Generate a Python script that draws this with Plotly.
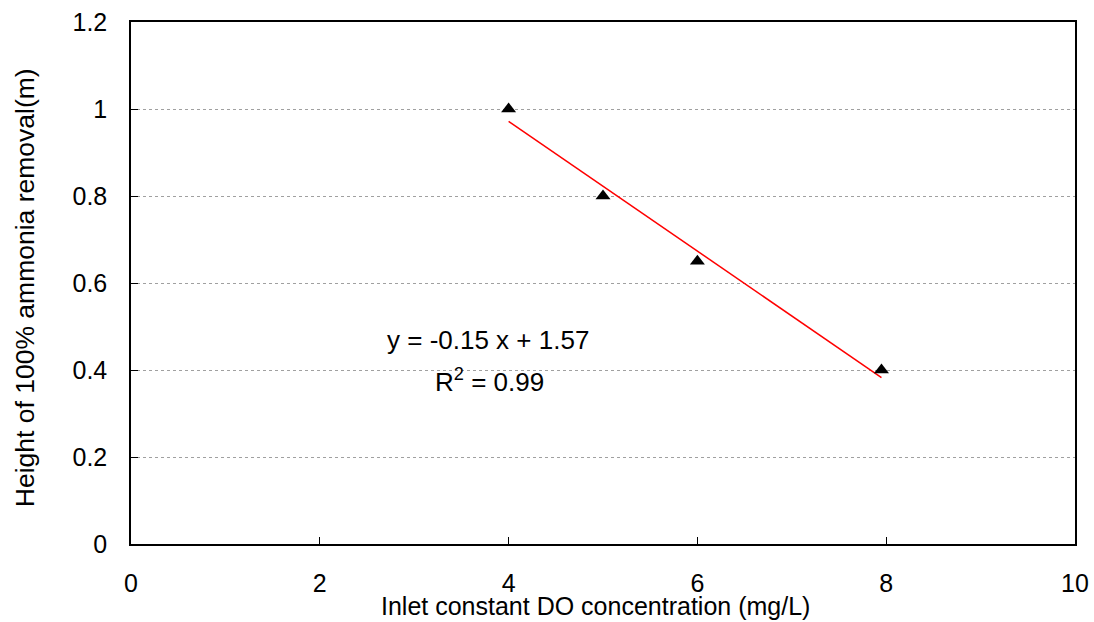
import numpy as np
import plotly.graph_objects as go

do_conc = [4, 5, 6, 7.95]
height = [1.0, 0.8, 0.65, 0.4]
x_ticks = [0, 2, 4, 6, 8, 10]
y_ticks = [0, 0.2, 0.4, 0.6, 0.8, 1.0, 1.2]
y_tick_text = ["0", "0.2", "0.4", "0.6", "0.8", "1", "1.2"]

slope, intercept = np.polyfit(do_conc, height, 1)
fit_x = [min(do_conc), max(do_conc)]
fit_y = [slope * v + intercept for v in fit_x]
r2 = np.corrcoef(do_conc, height)[0, 1] ** 2

FONT = "Liberation Sans, Arial, sans-serif"

fig = go.Figure()
fig.add_trace(go.Scatter(x=fit_x, y=fit_y, mode="lines",
                         line=dict(color="#ff0000", width=1.5), showlegend=False))
fig.add_trace(go.Scatter(x=do_conc, y=height, mode="markers",
                         marker=dict(symbol="triangle-up", size=13, color="black"),
                         showlegend=False))

fig.update_layout(
    width=1094, height=622,
    margin=dict(l=131, r=19, t=22, b=78),
    paper_bgcolor="white", plot_bgcolor="white",
    font=dict(family=FONT, size=25, color="black"),
    xaxis=dict(range=[0, 10], tickvals=x_ticks, ticks="inside", ticklen=7,
               tickcolor="black", showline=True, linecolor="black", linewidth=1.5,
               mirror=True, showgrid=False, zeroline=False, automargin=False,
               ticklabeloverflow="allow",
               ticklabelstandoff=16, tickfont=dict(size=25)),
    yaxis=dict(range=[0, 1.2], tickvals=y_ticks, ticktext=y_tick_text,
               ticks="inside", ticklen=7, tickcolor="black",
               showline=True, linecolor="black", linewidth=1.5, mirror=True,
               showgrid=True, gridcolor="#a0a0a0", griddash="dot", gridwidth=1,
               zeroline=False, automargin=False, ticklabeloverflow="allow",
               ticklabelstandoff=17, tickfont=dict(size=25)),
    annotations=[
        dict(text="Inlet constant DO concentration (mg/L)", xref="paper", yref="paper",
             x=0.492, y=0, yshift=-62, yanchor="middle", showarrow=False,
             font=dict(size=25)),
        dict(text="Height of 100% ammonia removal(m)", xref="paper", yref="paper",
             x=0, xshift=-106, y=0.49, xanchor="center", yanchor="middle",
             textangle=-90, showarrow=False, font=dict(size=26.5)),
        dict(text=f"y = {slope:.2f} x + {intercept:.2f}", xref="x", yref="y",
             x=3.78, y=0.469, showarrow=False, font=dict(size=26)),
        dict(text=f"R<sup>2</sup> = {r2:.2f}", xref="x", yref="y",
             x=3.8, y=0.375, showarrow=False, font=dict(size=26)),
    ],
)

fig.write_html("out.html", config={"displayModeBar": False},
               post_script="document.body.style.margin='0';")
